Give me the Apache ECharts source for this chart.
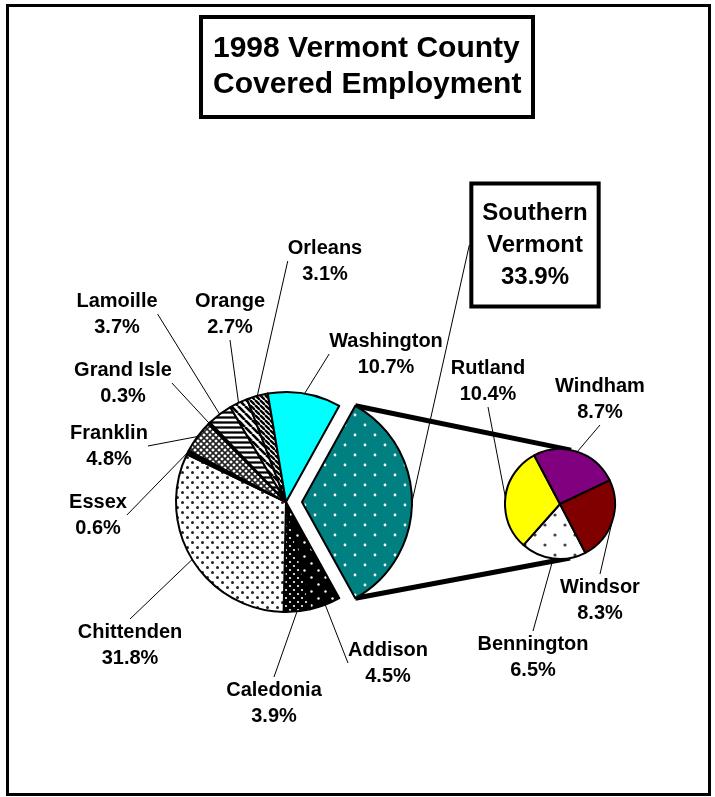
<!DOCTYPE html>
<html>
<head>
<meta charset="utf-8">
<script src="https://cdn.jsdelivr.net/npm/echarts@6/dist/echarts.min.js"></script>
<style>
  html, body { margin: 0; padding: 0; background: #fff; }
  #main { width: 715px; height: 797px; }
</style>
</head>
<body>
<div id="main"></div>
<script>
// main pie, clockwise from the split slice (Excel pie-of-pie)
const mainNames = ['Southern Vermont', 'Addison', 'Caledonia', 'Chittenden', 'Essex', 'Franklin',
  'Grand Isle', 'Lamoille', 'Orange', 'Orleans', 'Washington']
const mainValues = [33.9, 4.5, 3.9, 31.8, 0.6, 4.8, 0.3, 3.7, 2.7, 3.1, 10.7]

// second pie (Southern Vermont breakdown)
const southNames = ['Bennington', 'Rutland', 'Windham', 'Windsor']
const southValues = [6.5, 10.4, 8.7, 8.3]

const FONT = '"Liberation Sans", Arial, sans-serif'

// label centres, as placed in the original chart
const labelPos = {
  'Southern Vermont': [535, 245],
  Addison: [388, 663],
  Caledonia: [274, 703],
  Chittenden: [130, 645],
  Essex: [98, 515],
  Franklin: [109, 446],
  'Grand Isle': [123, 383],
  Lamoille: [117, 314],
  Orange: [230, 314],
  Orleans: [325, 261],
  Washington: [386, 354],
  Bennington: [533, 657],
  Rutland: [488, 381],
  Windham: [600, 399],
  Windsor: [600, 600]
}

// pattern fills
function tile (size, bg, draw) {
  const c = document.createElement('canvas')
  c.width = size
  c.height = size
  const ctx = c.getContext('2d')
  ctx.fillStyle = bg
  ctx.fillRect(0, 0, size, size)
  draw(ctx, size)
  return { image: c, repeat: 'repeat' }
}
function dots (size, bg, fg, r) {
  return tile(size, bg, (ctx, s) => {
    ctx.fillStyle = fg
    ;[[s / 4, s / 4], [s * 3 / 4, s * 3 / 4]].forEach(p => {
      ctx.beginPath()
      ctx.arc(p[0], p[1], r, 0, Math.PI * 2)
      ctx.fill()
    })
  })
}
function stripes (size, width, diagonal) {
  return tile(size, '#fff', (ctx, s) => {
    ctx.strokeStyle = '#000'
    ctx.lineWidth = width
    if (!diagonal) {
      ctx.beginPath()
      ctx.moveTo(0, s / 2)
      ctx.lineTo(s, s / 2)
      ctx.stroke()
      return
    }
    for (let k = -1; k <= 1; k++) {
      ctx.beginPath()
      ctx.moveTo(k * s, 0)
      ctx.lineTo(k * s + s, s)
      ctx.stroke()
    }
  })
}
function hatch (size, width) {
  return tile(size, '#fff', (ctx, s) => {
    ctx.strokeStyle = '#222'
    ctx.lineWidth = width
    for (let k = -1; k <= 1; k++) {
      ctx.beginPath()
      ctx.moveTo(k * s, 0)
      ctx.lineTo(k * s + s, s)
      ctx.stroke()
      ctx.beginPath()
      ctx.moveTo(k * s + s, 0)
      ctx.lineTo(k * s, s)
      ctx.stroke()
    }
  })
}

const fills = {
  'Southern Vermont': dots(20, '#008080', '#ffffff', 1.4),
  Addison: dots(14, '#000', '#fff', 1.2),
  Caledonia: dots(8, '#000', '#fff', 1.1),
  Chittenden: dots(10, '#fff', '#222', 1.5),
  Essex: '#000',
  Franklin: hatch(6, 1.6),
  'Grand Isle': '#000',
  Lamoille: stripes(5, 2.3, false),
  Orange: stripes(7, 2.6, true),
  Orleans: stripes(5, 2.4, true),
  Washington: '#00ffff',
  Bennington: dots(20, '#fff', '#444', 1.6),
  Rutland: '#ffff00',
  Windham: '#800080',
  Windsor: '#800000'
}

// geometry (pixels)
const mainGeo = { cx: 286, cy: 502, r: 110, explode: 16 }
const southGeo = { cx: 560, cy: 504, r: 55 }
const sum = arr => arr.reduce((a, b) => a + b, 0)

// split slice centred on 3 o'clock
const mainStart = mainValues[0] / sum(mainValues) * 360 / 2
const southStart = -62.6

// clockwise-from-top angles of every slice
function sliceAngles (values, startAngle) {
  const total = sum(values)
  let a = 90 - startAngle
  return values.map(v => {
    const from = a
    a += v / total * 360
    return [from, a]
  })
}
function polar (cx, cy, r, deg) {
  const t = deg * Math.PI / 180
  return [cx + r * Math.sin(t), cy - r * Math.cos(t)]
}

const mainAngles = sliceAngles(mainValues, mainStart)
const southAngles = sliceAngles(southValues, southStart)

// the split slice is pulled out along its bisector
const svMid = (mainAngles[0][0] + mainAngles[0][1]) / 2
const svOff = polar(0, 0, mainGeo.explode, svMid)
const svGeo = { cx: mainGeo.cx + svOff[0], cy: mainGeo.cy + svOff[1], r: mainGeo.r }

function arcMid (geo, angles, i) {
  const mid = (angles[i][0] + angles[i][1]) / 2
  return polar(geo.cx, geo.cy, geo.r, mid)
}

// leader attaches to a side of the label: left/right when the slice is beside it,
// top/bottom when the slice is roughly above or below it
function attachPoint (rect, p) {
  const margin = 15
  if (p[0] < rect.x - margin) return [rect.x, rect.y + rect.h / 2]
  if (p[0] > rect.x + rect.w + margin) return [rect.x + rect.w, rect.y + rect.h / 2]
  if (p[1] < rect.y + rect.h / 2) return [rect.x + rect.w / 2, rect.y]
  return [rect.x + rect.w / 2, rect.y + rect.h]
}

function placeLabels (geo, angles, names) {
  return function (params) {
    const name = names[params.dataIndex]
    const pos = labelPos[name]
    const w = params.labelRect.width
    const h = params.labelRect.height
    const rect = { x: pos[0] - w / 2, y: pos[1] - h / 2, w: w, h: h }
    const a = arcMid(geo, angles, params.dataIndex)
    const b = attachPoint(rect, a)
    return {
      x: pos[0],
      y: pos[1],
      align: 'center',
      verticalAlign: 'middle',
      labelLinePoints: [a, b, b]
    }
  }
}

// connector lines: from the pulled-out slice corners, tangent to the second pie
function tangentPoint (p, c, r, side) {
  const dx = c[0] - p[0]
  const dy = c[1] - p[1]
  const d = Math.hypot(dx, dy)
  const ang = Math.atan2(dy, dx) + side * Math.asin(r / d)
  const len = Math.sqrt(d * d - r * r)
  return [p[0] + len * Math.cos(ang), p[1] + len * Math.sin(ang)]
}
const cornerTop = polar(svGeo.cx, svGeo.cy, svGeo.r, mainAngles[0][0])
const cornerBot = polar(svGeo.cx, svGeo.cy, svGeo.r, mainAngles[0][1])
const southC = [southGeo.cx, southGeo.cy]
const tanTop = tangentPoint(cornerTop, southC, southGeo.r, -1)
const tanBot = tangentPoint(cornerBot, southC, southGeo.r, 1)

const labelText = {
  fontFamily: FONT,
  fontWeight: 'bold',
  fontSize: 20,
  lineHeight: 26,
  color: '#000',
  align: 'center'
}
const hidden = {
  itemStyle: { color: 'rgba(0,0,0,0)', borderWidth: 0 },
  label: { show: false },
  labelLine: { show: false }
}

const fmt = p => p.name + '\n' + p.value.toFixed(1) + '%'

// main pie: every county except the split slice
const mainData = mainNames.map((n, i) => {
  if (i === 0) return Object.assign({ name: n, value: mainValues[i] }, hidden)
  return { name: n, value: mainValues[i], itemStyle: { color: fills[n] } }
})

// same pie, shifted: only the split slice is drawn
const splitData = mainNames.map((n, i) => {
  if (i !== 0) return Object.assign({ name: n, value: mainValues[i] }, hidden)
  return {
    name: n,
    value: mainValues[i],
    itemStyle: { color: fills[n] },
    label: {
      formatter: p => p.name.replace(' ', '\n') + '\n' + p.value.toFixed(1) + '%',
      fontFamily: FONT,
      fontWeight: 'bold',
      fontSize: 24,
      lineHeight: 32,
      backgroundColor: '#fff',
      borderColor: '#000',
      borderWidth: 4,
      padding: [13, 9, 10, 9]
    }
  }
})

const southData = southNames.map((n, i) => ({
  name: n,
  value: southValues[i],
  itemStyle: { color: fills[n] }
}))

function pieSeries (name, geo, startAngle, data, angles, names) {
  return {
    name: name,
    type: 'pie',
    silent: true,
    center: [geo.cx, geo.cy],
    radius: [0, geo.r],
    startAngle: startAngle,
    clockwise: true,
    avoidLabelOverlap: false,
    data: data,
    itemStyle: { borderColor: '#000', borderWidth: 2 },
    label: Object.assign({ show: true, position: 'outside', formatter: fmt }, labelText),
    labelLine: { show: true, length: 0, length2: 0, lineStyle: { color: '#000', width: 1 } },
    labelLayout: placeLabels(geo, angles, names),
    emphasis: { disabled: true }
  }
}

const chart = echarts.init(document.getElementById('main'), null, { renderer: 'canvas' })

chart.setOption({
  animation: false,
  backgroundColor: '#fff',
  title: {
    text: '1998 Vermont County\nCovered Employment',
    left: 201,
    top: 17,
    padding: [14, 12, 14, 12],
    borderColor: '#000',
    borderWidth: 4,
    textStyle: {
      fontFamily: FONT,
      fontWeight: 'bold',
      fontSize: 30,
      lineHeight: 36,
      color: '#000'
    }
  },
  graphic: [
    {
      type: 'rect',
      z: 0,
      shape: { x: 7.5, y: 5.5, width: 702, height: 789 },
      style: { fill: 'none', stroke: '#000', lineWidth: 3 }
    },
    {
      type: 'polyline',
      z: 0,
      shape: { points: [cornerTop, tanTop] },
      style: { stroke: '#000', lineWidth: 5 }
    },
    {
      type: 'polyline',
      z: 0,
      shape: { points: [cornerBot, tanBot] },
      style: { stroke: '#000', lineWidth: 5 }
    }
  ],
  series: [
    pieSeries('Counties', mainGeo, mainStart, mainData, mainAngles, mainNames),
    pieSeries('Southern Vermont split', svGeo, mainStart, splitData, mainAngles, mainNames),
    pieSeries('Southern Vermont', southGeo, southStart, southData, southAngles, southNames)
  ]
})
</script>
</body>
</html>
